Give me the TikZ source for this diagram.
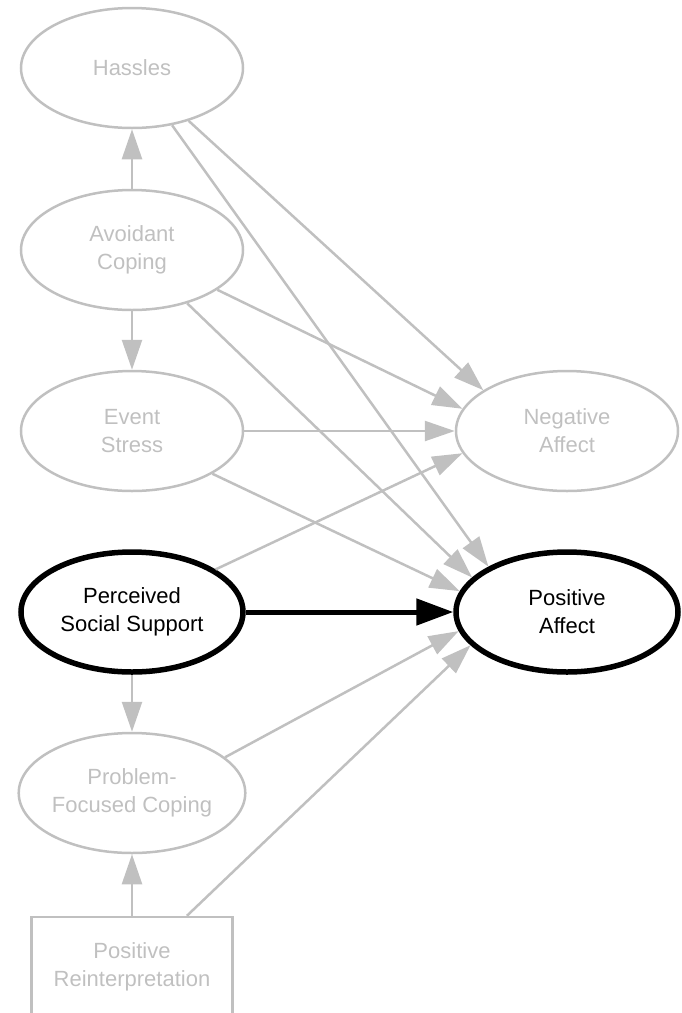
\documentclass[tikz,border=0pt]{standalone}
\usepackage{fontspec}
\setmainfont{Liberation Sans}
\usetikzlibrary{arrows.meta,shapes.geometric}
\definecolor{faded}{RGB}{192,192,192}
\begin{document}
\begin{tikzpicture}[x=1pt, y=-1pt,
  font=\fontsize{22}{28}\selectfont,
  var/.style={ellipse, draw=faded, text=faded, line width=2.5pt,
    minimum width=222pt, minimum height=120pt, inner sep=0pt, align=center},
  keyvar/.style={var, draw=black, text=black, line width=5.5pt},
  obs/.style={rectangle, draw=faded, text=faded, line width=2.5pt,
    minimum width=201pt, minimum height=100pt, inner sep=0pt, align=center},
  link/.style={draw=faded, line width=2.5pt, -{Triangle[length=30pt,width=20pt]}},
  keylink/.style={draw=black, line width=5pt, -{Triangle[length=37pt,width=26pt]}}]
\useasboundingbox (0,0) rectangle (681,1013);

% left column
\node[var] (hassles) at (132,68) {Hassles};
\node[var] (avoid) at (132,250) {Avoidant\\Coping};
\node[var] (event) at (132,431) {Event\\Stress};
\node[keyvar] (pss) at (132,612) {Perceived\\Social Support};
\node[var] (pfc) at (132,793) {Problem-\\Focused Coping};
\node[obs] (reint) at (132,967) {Positive\\Reinterpretation};

% outcomes
\node[var] (neg) at (567,431) {Negative\\Affect};
\node[keyvar] (pos) at (567,612) {Positive\\Affect};

\foreach \a/\b in {avoid.north/hassles.south, avoid.south/event.north,
    pss.south/pfc.north, reint.north/pfc.south,
    hassles.-43/neg.154, hassles.-55/pos.150,
    avoid.-25/neg.168, avoid.-44/pos.160,
    event.east/neg.west, event.-28/pos.169,
    pss.27/neg.192, pfc.21/pos.190, reint.43/pos.199}
  \draw[link] (\a) -- (\b);

\draw[keylink] (pss.east) -- (pos.west);

\end{tikzpicture}
\end{document}
